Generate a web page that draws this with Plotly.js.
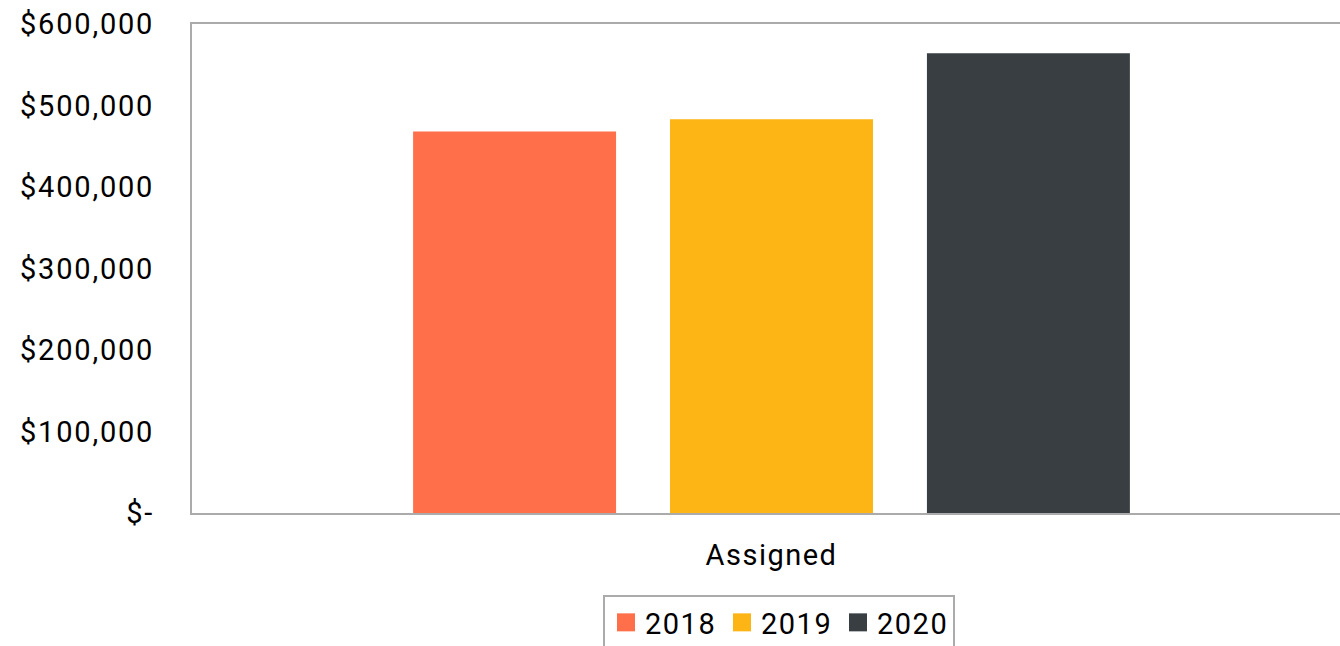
<!DOCTYPE html>
<html>
<head>
<meta charset="utf-8">
<script src="https://cdn.plot.ly/plotly-3.0.1.min.js"></script>
<style>
  html, body { margin: 0; padding: 0; overflow: hidden; background: #fff; }
  #chart { width: 1352px; height: 646px; }
  .xtick text, .legendtext { letter-spacing: 1.5px; }
  .ytick text { letter-spacing: 1.8px; }
  .legendpoints path { transform: translate(21px, 0px) scale(1.5); }
</style>
</head>
<body>
<div id="chart"></div>
<script>
const categories = ["Assigned"];
const seriesNames = ["2018", "2019", "2020"];
const values2018 = [468000];
const values2019 = [483000];
const values2020 = [564000];
const seriesColors = ["#FF6F4A", "#FDB515", "#393E43"];
const yTickVals = [0, 100000, 200000, 300000, 400000, 500000, 600000];
const yTickText = ["$-", "$100,000", "$200,000", "$300,000", "$400,000", "$500,000", "$600,000"];

const seriesValues = [values2018, values2019, values2020];
const traces = seriesNames.map((name, i) => ({
  type: "bar",
  name: name,
  x: categories,
  y: seriesValues[i],
  marker: { color: seriesColors[i], line: { width: 0 } },
  hoverinfo: "none"
}));

const font = { family: "Roboto, 'Noto Sans', sans-serif", size: 29, color: "#000000" };

const layout = {
  width: 1352,
  height: 646,
  margin: { l: 192, r: 1, t: 23.5, b: 132.5, pad: 0 },
  paper_bgcolor: "#ffffff",
  plot_bgcolor: "#ffffff",
  font: font,
  barmode: "group",
  bargap: 0.335,
  bargroupgap: 0.21,
  showlegend: true,
  legend: {
    orientation: "h",
    xref: "container",
    yref: "container",
    x: 603 / 1352,
    xanchor: "left",
    y: 1 - 595 / 646,
    yanchor: "top",
    bordercolor: "#ababab",
    borderwidth: 2,
    bgcolor: "#ffffff",
    font: font,
    entrywidth: 71,
    traceorder: "normal"
  },
  xaxis: {
    type: "category",
    showgrid: false,
    zeroline: false,
    showline: true,
    linecolor: "#ababab",
    linewidth: 2,
    mirror: true,
    ticks: "",
    ticklabelstandoff: 15,
    tickfont: font,
    fixedrange: true
  },
  yaxis: {
    range: [0, 600000],
    tickmode: "array",
    tickvals: yTickVals,
    ticktext: yTickText,
    showgrid: false,
    zeroline: false,
    showline: true,
    linecolor: "#ababab",
    linewidth: 2,
    mirror: true,
    ticks: "",
    ticklabelstandoff: 30,
    tickfont: font,
    fixedrange: true
  }
};

Plotly.newPlot("chart", traces, layout, { staticPlot: true, displayModeBar: false });
</script>
</body>
</html>
